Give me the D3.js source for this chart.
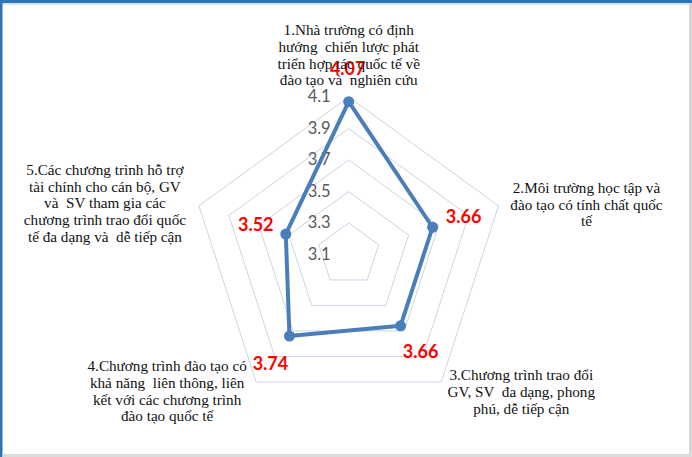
<!DOCTYPE html>
<html>
<head>
<meta charset="utf-8">
<script src="https://cdn.jsdelivr.net/npm/d3@7"></script>
<style>
  html, body { margin: 0; padding: 0; background: #fff; }
  svg { display: block; }
  .category { font-family: "Liberation Serif", "DejaVu Serif", "Times New Roman", serif; }
</style>
</head>
<body>
<div id="chart-wrapper"></div>
<script>
// data
var categories = [
    ['1.Nhà trường có định', 'hướng  chiến lược phát', 'triển hợp tác quốc tế về', 'đào tạo và  nghiên cứu'],
    ['2.Môi trường học tập và', 'đào tạo có tính chất quốc', 'tế'],
    ['3.Chương trình trao đổi', 'GV, SV  đa dạng, phong', 'phú, dễ tiếp cận'],
    ['4.Chương trình đào tạo có', 'khả năng  liên thông, liên', 'kết với các chương trình', 'đào tạo quốc tế'],
    ['5.Các chương trình hỗ trợ', 'tài chính cho cán bộ, GV', 'và  SV tham gia các', 'chương trình trao đổi quốc', 'tế đa dạng và  dễ tiếp cận']
];
var values = [4.07, 3.66, 3.66, 3.74, 3.52];
var tick_values = [3.1, 3.3, 3.5, 3.7, 3.9, 4.1];

// layout
var total_width = 692;
var total_height = 457;
var center = {x: 348.7, y: 254.5};
var radius = 157.5;
var line_height = 16.8;

// where the category text sits, relative to the outer vertex (first baseline)
var label_offsets = [
    {dx: 0, dy: -62},
    {dx: 88, dy: -13},
    {dx: 80, dy: -2},
    {dx: -89, dy: -11},
    {dx: -94, dy: -31}
];
// where the value text sits, relative to its point
var value_offsets = [
    {dx: -1, dy: -27},
    {dx: 31, dy: -4},
    {dx: 20, dy: 32},
    {dx: -19, dy: 34},
    {dx: -30, dy: -3}
];

var svg = d3.select('#chart-wrapper').append('svg')
    .attr('width', total_width)
    .attr('height', total_height);

// frame around the screenshot
svg.append('rect').attr('x', 0).attr('y', 0).attr('width', total_width).attr('height', 5).attr('fill', '#d3e4f5');
svg.append('rect').attr('x', 0).attr('y', 0).attr('width', total_width).attr('height', 3).attr('fill', '#2e74b8');
svg.append('rect').attr('x', 0).attr('y', 0).attr('width', 2.5).attr('height', total_height).attr('fill', '#2e74b8');
svg.append('rect').attr('x', total_width - 3).attr('y', 3).attr('width', 3).attr('height', total_height).attr('fill', '#d6d6d6');
svg.append('rect').attr('x', 2.5).attr('y', total_height - 3).attr('width', total_width).attr('height', 3).attr('fill', '#dcdcdc');

var scale_r = d3.scaleLinear()
    .domain([tick_values[0], tick_values[tick_values.length - 1]])
    .range([0, radius]);

var scale_a = d3.scaleLinear()
    .domain([0, categories.length])
    .range([0, 2 * Math.PI]);

var point = function(i, r) {
    var a = scale_a(i);
    return [center.x + r * Math.sin(a), center.y - r * Math.cos(a)];
};

var draw_area = svg.append('g');

// gridline pentagons (the minimum sits at the centre)
var line_closed = d3.line().curve(d3.curveLinearClosed);
draw_area.selectAll('.grid')
    .data(tick_values.slice(1))
    .enter()
  .append('path')
    .attr('class', 'grid')
    .attr('d', function(t) {
        return line_closed(categories.map(function(c, i) { return point(i, scale_r(t)); }));
    })
    .attr('fill', 'none')
    .attr('stroke', '#c9d5e6')
    .attr('stroke-width', 1);

// axis tick labels
draw_area.selectAll('.tick-label')
    .data(tick_values)
    .enter()
  .append('text')
    .attr('class', 'tick-label')
    .attr('x', center.x - 18)
    .attr('y', function(t) { return center.y - scale_r(t) + 1; })
    .attr('text-anchor', 'end')
    .attr('dominant-baseline', 'middle')
    .style('font-family', 'Lato, "Open Sans", sans-serif')
    .style('font-size', '16.5px')
    .attr('fill', '#595959')
    .text(function(t) { return d3.format('.1f')(t); });

// data series
draw_area.append('path')
    .datum(values)
    .attr('d', function(d) {
        return line_closed(d.map(function(v, i) { return point(i, scale_r(v)); }));
    })
    .attr('fill', 'none')
    .attr('stroke', '#4a7ebb')
    .attr('stroke-width', 4)
    .attr('stroke-linejoin', 'round');

draw_area.selectAll('.marker')
    .data(values)
    .enter()
  .append('circle')
    .attr('class', 'marker')
    .attr('cx', function(v, i) { return point(i, scale_r(v))[0]; })
    .attr('cy', function(v, i) { return point(i, scale_r(v))[1]; })
    .attr('r', 5.5)
    .attr('fill', '#4a7ebb');

// value labels
draw_area.selectAll('.value-label')
    .data(values)
    .enter()
  .append('text')
    .attr('class', 'value-label')
    .attr('x', function(v, i) { return point(i, scale_r(v))[0] + value_offsets[i].dx; })
    .attr('y', function(v, i) { return point(i, scale_r(v))[1] + value_offsets[i].dy; })
    .attr('text-anchor', 'middle')
    .style('font-family', 'Lato, "Open Sans", sans-serif')
    .style('font-size', '18px')
    .style('font-weight', 'bold')
    .attr('fill', '#ff0000')
    .text(function(v) { return d3.format('.2f')(v); });

// category labels
var cat = draw_area.selectAll('.category')
    .data(categories)
    .enter()
  .append('text')
    .attr('class', 'category')
    .attr('text-anchor', 'middle')
    .attr('font-size', 15.2)
    .attr('fill', '#111');

cat.selectAll('tspan')
    .data(function(d, i) {
        var p = point(i, radius);
        return d.map(function(line, j) {
            return {text: line, x: p[0] + label_offsets[i].dx, y: p[1] + label_offsets[i].dy + j * line_height};
        });
    })
    .enter()
  .append('tspan')
    .attr('x', function(d) { return d.x; })
    .attr('y', function(d) { return d.y; })
    .style('white-space', 'pre')
    .text(function(d) { return d.text; });
</script>
</body>
</html>
